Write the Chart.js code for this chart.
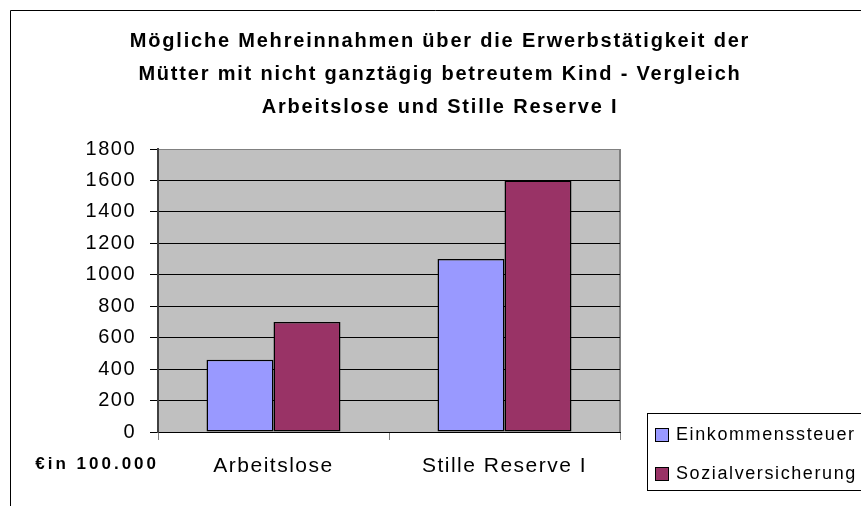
<!DOCTYPE html>
<html>
<head>
<meta charset="utf-8">
<script src="https://cdn.jsdelivr.net/npm/chart.js@4"></script>
<style>
  html, body { margin: 0; padding: 0; background: #fff; }
  canvas { display: block; }
</style>
</head>
<body>
<canvas id="chart" width="861" height="506"></canvas>
<script>
// data
const categories = ['Arbeitslose', 'Stille Reserve I'];
const seriesNames = ['Einkommenssteuer', 'Sozialversicherung'];
const einkommenssteuer = [460, 1100];
const sozialversicherung = [700, 1600];
const seriesColors = ['#9999FF', '#993366'];
const yMin = 0, yMax = 1800, yStep = 200;
const titleLines = [
  'Mögliche Mehreinnahmen über die Erwerbstätigkeit der',
  'Mütter mit nicht ganztägig betreutem Kind - Vergleich',
  'Arbeitslose und Stille Reserve I'
];
const unitLabel = '€in 100.000';

const FONT = "'Liberation Sans', Arial, sans-serif";

// grey plot area, title, unit label, legend and outer frame
const decor = {
  id: 'decor',
  beforeLayout(chart) { chart.ctx.letterSpacing = '1.5px'; },
  beforeDraw(chart) {
    const { ctx, chartArea: a } = chart;
    ctx.save();
    ctx.fillStyle = '#fff';
    ctx.fillRect(0, 0, chart.width, chart.height);
    ctx.fillStyle = '#C0C0C0';
    ctx.fillRect(a.left, a.top, a.right - a.left, a.bottom - a.top);
    ctx.strokeStyle = '#808080';
    ctx.lineWidth = 2;
    ctx.beginPath();
    ctx.moveTo(a.right, a.top);
    ctx.lineTo(a.right, a.bottom);
    ctx.stroke();
    ctx.restore();
    ctx.letterSpacing = '1.5px';
  },
  afterDraw(chart) {
    const ctx = chart.ctx;
    ctx.save();
    // title
    ctx.fillStyle = '#000';
    ctx.textAlign = 'center';
    ctx.textBaseline = 'middle';
    ctx.letterSpacing = '1.8px';
    ctx.font = 'bold 20px ' + FONT;
    titleLines.forEach((t, i) => ctx.fillText(t, 440, 41 + i * 33));

    // unit label under the y axis
    ctx.textAlign = 'right';
    ctx.letterSpacing = '3px';
    ctx.font = 'bold 17px ' + FONT;
    ctx.fillText(unitLabel, 159, 464);

    // legend
    ctx.strokeStyle = '#000';
    ctx.lineWidth = 1;
    ctx.strokeRect(647.5, 413.5, 260, 77);
    ctx.textAlign = 'left';
    ctx.letterSpacing = '1.6px';
    ctx.font = '18px ' + FONT;
    seriesNames.forEach((name, i) => {
      const y = 435 + i * 39;
      ctx.fillStyle = seriesColors[i];
      ctx.fillRect(655, y - 7, 14, 14);
      ctx.strokeRect(655.5, y - 6.5, 13, 13);
      ctx.fillStyle = '#000';
      ctx.fillText(name, 676, y);
    });

    // outer frame
    ctx.beginPath();
    ctx.moveTo(10.5, chart.height);
    ctx.lineTo(10.5, 10.5);
    ctx.lineTo(chart.width, 10.5);
    ctx.stroke();
    ctx.restore();
  }
};

new Chart(document.getElementById('chart'), {
  type: 'bar',
  data: {
    labels: categories,
    datasets: [
      { label: seriesNames[0], data: einkommenssteuer, backgroundColor: seriesColors[0] },
      { label: seriesNames[1], data: sozialversicherung, backgroundColor: seriesColors[1] }
    ].map(d => Object.assign(d, {
      borderColor: '#000',
      borderWidth: 1.5,
      borderSkipped: false,
      categoryPercentage: 0.58,
      barPercentage: 1
    }))
  },
  options: {
    responsive: false,
    animation: false,
    layout: { padding: { top: 149, right: 241, bottom: 0, left: 0 } },
    plugins: {
      legend: { display: false },
      title: { display: false },
      tooltip: { enabled: false }
    },
    scales: {
      x: {
        afterFit: s => { s.height = 74; },
        grid: {
          offset: true,
          drawOnChartArea: false,
          tickLength: 8,
          color: '#808080',
          lineWidth: 1
        },
        border: { color: '#000', width: 1 },
        ticks: { color: '#000', padding: 14, font: { family: FONT, size: 21 } }
      },
      y: {
        min: yMin,
        max: yMax,
        afterFit: s => { s.width = 158; },
        grid: {
          color: c => (c.tick && c.tick.value === yMax) ? '#808080' : '#000',
          tickColor: '#000',
          tickLength: 8,
          lineWidth: 1
        },
        border: { color: '#404040', width: 2 },
        ticks: {
          stepSize: yStep,
          color: '#000',
          padding: 14,
          font: { family: FONT, size: 20 },
          callback: v => String(v)
        }
      }
    }
  },
  plugins: [decor]
});
</script>
</body>
</html>
